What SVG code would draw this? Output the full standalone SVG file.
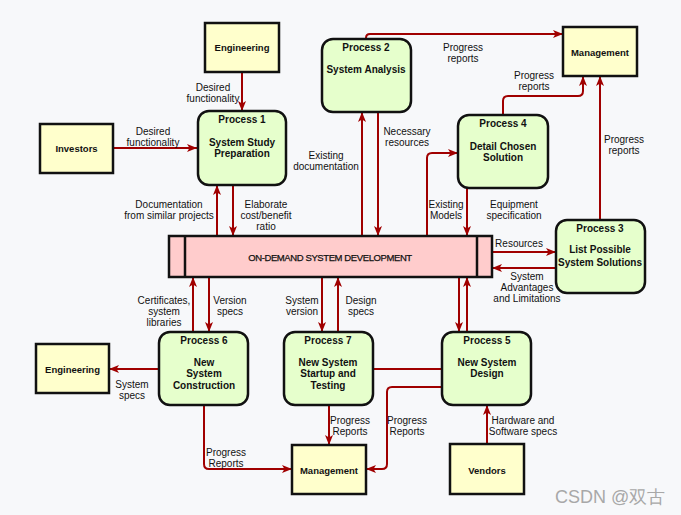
<svg xmlns="http://www.w3.org/2000/svg" width="681" height="515" viewBox="0 0 681 515">
<defs>
<marker id="ah" viewBox="0 0 10 8" refX="10" refY="4" markerWidth="10" markerHeight="8" markerUnits="userSpaceOnUse" orient="auto">
<path d="M0,0 L10,4 L0,8 L2.5,4 z" fill="#a00000"/>
</marker>
<style>
.ent{fill:#ffffcc;stroke:#111;stroke-width:2.5}
.proc{fill:#e6ffcc;stroke:#111;stroke-width:2.5}
.bar{fill:#ffcccc;stroke:#111;stroke-width:2.5}
.c{fill:none;stroke:#a00000;stroke-width:2}
.a{marker-end:url(#ah)}
text{font-family:"Liberation Sans",Arial,sans-serif;fill:#111}
.lb{font-size:10px;text-anchor:middle}
.t{font-size:10px;font-weight:bold;text-anchor:middle}
.et{font-size:9.5px;font-weight:bold;text-anchor:middle}
</style>
</defs>
<rect width="681" height="515" fill="#f7f8fa"/>

<g id="connectors">
<path class="c a" d="M242,72 V111"/>
<path class="c a" d="M113,148 H197"/>
<path class="c a" d="M217,236 V185"/>
<path class="c a" d="M233,185 V236"/>
<path class="c a" d="M362,236 V112"/>
<path class="c a" d="M378,112 V236"/>
<path class="c a" d="M366,39 V38 Q366,34 370,34 H563"/>
<path class="c a" d="M503,115 V101 Q503,96 508,96 H578 Q583,96 583,91 V76"/>
<path class="c a" d="M600,220 V76"/>
<path class="c a" d="M427,236 V158 Q427,153 432,153 H458"/>
<path class="c a" d="M467,188 V236"/>
<path class="c a" d="M492,252 H556"/>
<path class="c a" d="M556,268 H492"/>
<path class="c a" d="M193,332 V277"/>
<path class="c a" d="M209,277 V332"/>
<path class="c a" d="M322,277 V332"/>
<path class="c a" d="M338,332 V277"/>
<path class="c a" d="M459,277 V332"/>
<path class="c a" d="M467,332 V277"/>
<path class="c a" d="M159,369 H109"/>
<path class="c a" d="M204,405 V464 Q204,469 209,469 H292"/>
<path class="c a" d="M329,405 V445"/>
<path class="c" d="M373,369 H442"/>
<path class="c a" d="M442,387 H392 Q387,387 387,392 V464 Q387,469 382,469 H366"/>
<path class="c a" d="M487,444 V405"/>

<text class="lb" x="213" y="90.5">Desired</text>
<text class="lb" x="213" y="101.5">functionality</text>
<text class="lb" x="153" y="134.5">Desired</text>
<text class="lb" x="153" y="145.5">functionality</text>
<text class="lb" x="169" y="207.5">Documentation</text>
<text class="lb" x="169" y="218.5">from similar projects</text>
<text class="lb" x="266" y="207.5">Elaborate</text>
<text class="lb" x="266" y="218.5">cost/benefit</text>
<text class="lb" x="266" y="229.5">ratio</text>
<text class="lb" x="326" y="158.5">Existing</text>
<text class="lb" x="326" y="169.5">documentation</text>
<text class="lb" x="407" y="134.5">Necessary</text>
<text class="lb" x="407" y="145.5">resources</text>
<text class="lb" x="463" y="50.5">Progress</text>
<text class="lb" x="463" y="61.5">reports</text>
<text class="lb" x="534" y="78.5">Progress</text>
<text class="lb" x="534" y="89.5">reports</text>
<text class="lb" x="624" y="142.5">Progress</text>
<text class="lb" x="624" y="153.5">reports</text>
<text class="lb" x="446" y="207.5">Existing</text>
<text class="lb" x="446" y="218.5">Models</text>
<text class="lb" x="514" y="207.5">Equipment</text>
<text class="lb" x="514" y="218.5">specification</text>
<text class="lb" x="519" y="246.5">Resources</text>
<text class="lb" x="527" y="279.5">System</text>
<text class="lb" x="527" y="290.5">Advantages</text>
<text class="lb" x="527" y="301.5">and Limitations</text>
<text class="lb" x="164" y="303.5">Certificates,</text>
<text class="lb" x="164" y="314.5">system</text>
<text class="lb" x="164" y="325.5">libraries</text>
<text class="lb" x="230" y="303.5">Version</text>
<text class="lb" x="230" y="314.5">specs</text>
<text class="lb" x="302" y="303.5">System</text>
<text class="lb" x="302" y="314.5">version</text>
<text class="lb" x="361" y="303.5">Design</text>
<text class="lb" x="361" y="314.5">specs</text>
<text class="lb" x="132" y="387.5">System</text>
<text class="lb" x="132" y="398.5">specs</text>
<text class="lb" x="226" y="455.5">Progress</text>
<text class="lb" x="226" y="466.5">Reports</text>
<text class="lb" x="350" y="423.5">Progress</text>
<text class="lb" x="350" y="434.5">Reports</text>
<text class="lb" x="407" y="423.5">Progress</text>
<text class="lb" x="407" y="434.5">Reports</text>
<text class="lb" x="523" y="423.5">Hardware and</text>
<text class="lb" x="523" y="434.5">Software specs</text>
</g>

<g id="engineering-top">
<rect class="ent" x="205" y="23" width="74" height="49"/>
<text class="et" x="242" y="51">Engineering</text>
</g>
<g id="investors">
<rect class="ent" x="40" y="124" width="73" height="49"/>
<text class="et" x="76.5" y="152">Investors</text>
</g>
<g id="management-top">
<rect class="ent" x="563" y="27" width="74" height="49"/>
<text class="et" x="600" y="55.5">Management</text>
</g>
<g id="engineering-left">
<rect class="ent" x="36" y="344" width="73" height="49"/>
<text class="et" x="72.5" y="373">Engineering</text>
</g>
<g id="management-bottom">
<rect class="ent" x="292" y="445" width="74" height="49"/>
<text class="et" x="329" y="473.5">Management</text>
</g>
<g id="vendors">
<rect class="ent" x="450" y="444" width="74" height="50"/>
<text class="et" x="487" y="473.5">Vendors</text>
</g>

<g id="process1">
<rect class="proc" x="198" y="111" width="88" height="74" rx="11"/>
<text class="t" x="242" y="122.5">Process 1</text>
<text class="t" x="242" y="145.5">System Study</text>
<text class="t" x="242" y="156.5">Preparation</text>
</g>
<g id="process2">
<rect class="proc" x="322" y="39" width="89" height="73" rx="11"/>
<text class="t" x="366" y="50.5">Process 2</text>
<text class="t" x="366" y="72.5">System Analysis</text>
</g>
<g id="process4">
<rect class="proc" x="458" y="115" width="90" height="73" rx="11"/>
<text class="t" x="503" y="126.5">Process 4</text>
<text class="t" x="503" y="149.5">Detail Chosen</text>
<text class="t" x="503" y="160.5">Solution</text>
</g>
<g id="process3">
<rect class="proc" x="556" y="220" width="89" height="73" rx="11"/>
<text class="t" x="600" y="231.5">Process 3</text>
<text class="t" x="600" y="252.5">List Possible</text>
<text class="t" x="600" y="265.5">System Solutions</text>
</g>
<g id="process6">
<rect class="proc" x="159" y="332" width="89" height="73" rx="11"/>
<text class="t" x="204" y="343.5">Process 6</text>
<text class="t" x="204" y="365.5">New</text>
<text class="t" x="204" y="376.5">System</text>
<text class="t" x="204" y="388.5">Construction</text>
</g>
<g id="process7">
<rect class="proc" x="284" y="332" width="89" height="73" rx="11"/>
<text class="t" x="328" y="343.5">Process 7</text>
<text class="t" x="328" y="365.5">New System</text>
<text class="t" x="328" y="376.5">Startup and</text>
<text class="t" x="328" y="388.5">Testing</text>
</g>
<g id="process5">
<rect class="proc" x="442" y="332" width="89" height="73" rx="11"/>
<text class="t" x="487" y="343.5">Process 5</text>
<text class="t" x="487" y="365.5">New System</text>
<text class="t" x="487" y="376.5">Design</text>
</g>

<g id="datastore">
<rect class="bar" x="169" y="236" width="323" height="41"/>
<line x1="185" y1="236" x2="185" y2="277" stroke="#111" stroke-width="2.5"/>
<line x1="477" y1="236" x2="477" y2="277" stroke="#111" stroke-width="2.5"/>
<text x="330" y="260.5" font-size="9.5" text-anchor="middle" letter-spacing="-0.4" stroke="#111" stroke-width="0.25">ON-DEMAND SYSTEM DEVELOPMENT</text>
</g>

<text x="555" y="503" font-family="'Liberation Sans','Noto Sans CJK SC',sans-serif" font-size="18" style="fill:#a8a8a8">CSDN @双古</text>
</svg>
